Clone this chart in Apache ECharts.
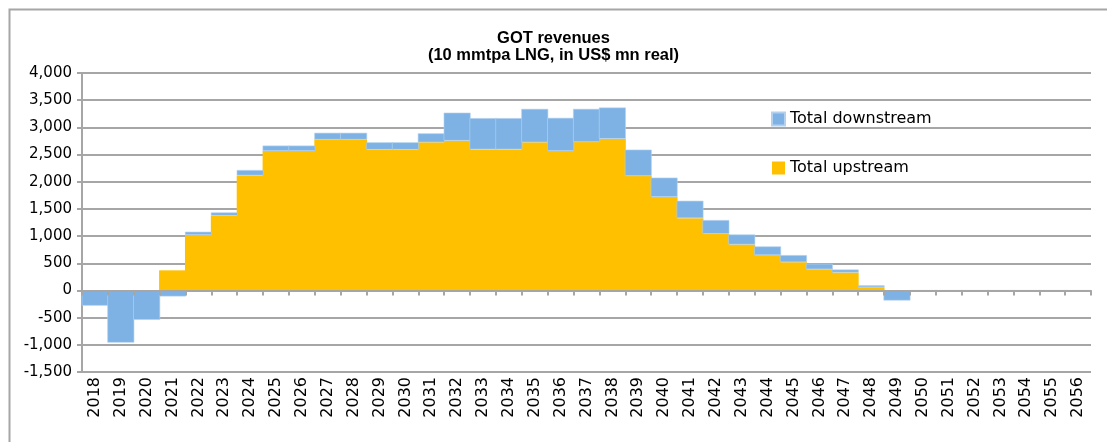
<!DOCTYPE html>
<html>
<head>
<meta charset="utf-8">
<script src="https://cdn.jsdelivr.net/npm/echarts@6/dist/echarts.min.js"></script>
<style>
html,body{margin:0;padding:0;background:#fff;}
#chart{width:1107px;height:442px;}
</style>
</head>
<body>
<div id="chart"></div>
<script>
const titleLines = ['GOT revenues', '(10 mmtpa LNG, in US$ mn real)'];
const years = ['2018','2019','2020','2021','2022','2023','2024','2025','2026','2027','2028','2029','2030','2031','2032','2033','2034','2035','2036','2037','2038','2039','2040','2041','2042','2043','2044','2045','2046','2047','2048','2049','2050','2051','2052','2053','2054','2055','2056'];
const upstream = [0,0,0,370,1020,1375,2115,2565,2565,2775,2775,2590,2590,2725,2755,2595,2595,2725,2565,2730,2790,2105,1720,1330,1040,845,650,520,390,330,60,0,0,0,0,0,0,0,0];
const downstream = [-280,-960,-540,-110,60,60,100,100,100,125,125,135,135,165,515,575,575,615,610,610,575,485,355,320,255,185,160,130,100,55,35,-185,0,0,0,0,0,0,0];
const seriesNames = ['Total upstream', 'Total downstream'];
const yTicks = {min: -1500, max: 4000, interval: 500};

const chart = echarts.init(document.getElementById('chart'));
const gridColor = '#a6a6a6';
const upColor = '#FFC000';
const downColor = '#7EB2E4';
chart.setOption({
  animation: false,
  backgroundColor: '#fff',
  graphic: [{
    type: 'rect', left: 7, top: 7, z: -10,
    shape: {width: 1130, height: 460},
    style: {fill: 'none', stroke: gridColor, lineWidth: 2}
  }],
  title: {
    text: titleLines.join('\n'),
    left: 'center', top: 25,
    textStyle: {fontFamily: 'Liberation Sans', fontWeight: 'bold', fontSize: 16.5, lineHeight: 17, color: '#000'}
  },
  legend: {
    data: [seriesNames[1], seriesNames[0]],
    orient: 'vertical',
    left: 771, top: 111, padding: 0,
    itemWidth: 13, itemHeight: 13, itemGap: 33,
    icon: 'rect',
    textStyle: {fontFamily: 'DejaVu Sans', fontSize: 16, lineHeight: 16, color: '#000'}
  },
  grid: {left: 82, right: 16, top: 73, bottom: 70, containLabel: false},
  xAxis: {
    type: 'category',
    data: years,
    z: 5,
    boundaryGap: true,
    splitLine: {show: false},
    axisLine: {onZero: true, lineStyle: {color: gridColor, width: 2}},
    axisTick: {show: true, alignWithLabel: false, length: 5, lineStyle: {color: gridColor, width: 2}},
    axisLabel: {rotate: 90, interval: 0, margin: 5, color: '#000', fontFamily: 'DejaVu Sans', fontSize: 16}
  },
  yAxis: {
    type: 'value',
    min: yTicks.min, max: yTicks.max, interval: yTicks.interval,
    axisLine: {show: true, lineStyle: {color: gridColor, width: 2}},
    axisTick: {show: true, length: 5, lineStyle: {color: gridColor, width: 2}},
    splitLine: {show: true, lineStyle: {color: gridColor, width: 2}},
    axisLabel: {
      margin: 10, color: '#000', fontFamily: 'DejaVu Sans', fontSize: 15,
      formatter: v => v.toLocaleString('en-US')
    }
  },
  series: [
    {name: seriesNames[0], type: 'bar', stack: 'tot', data: upstream, barWidth: '104%',
     itemStyle: {color: upColor, borderWidth: 0}},
    {name: seriesNames[1], type: 'bar', stack: 'tot', data: downstream, barWidth: '100%',
     itemStyle: {color: downColor, borderColor: '#b3d1ef', borderWidth: 0.6}}
  ]
});
</script>
</body>
</html>
